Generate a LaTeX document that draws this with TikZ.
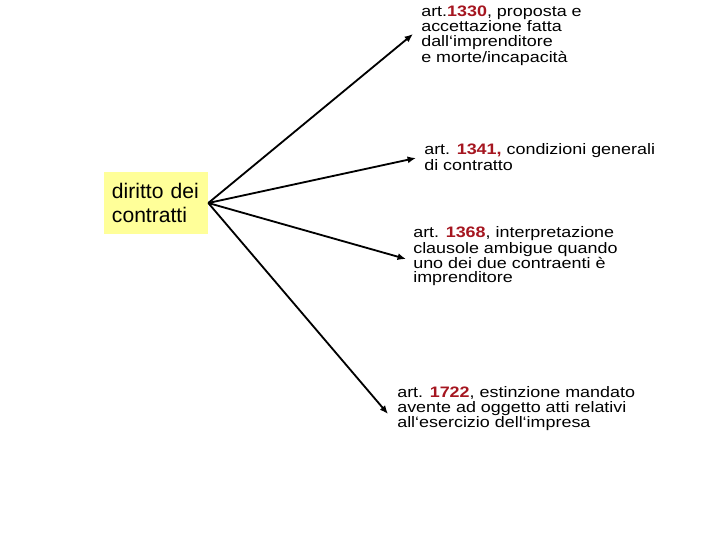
\documentclass[tikz,border=0pt]{standalone}
\usepackage{fontspec}
\setmainfont{Liberation Sans}
\newfontfamily\artfont[FakeStretch=1.18]{Liberation Sans}
\usetikzlibrary{arrows.meta}
\definecolor{artred}{RGB}{165,22,32}
\definecolor{boxyellow}{RGB}{255,255,153}
\newcommand{\artnum}[1]{\textcolor{artred}{\textbf{#1}}}
\tikzset{
  artlink/.style = {line width=1.3pt, -{Latex[length=6pt,width=5pt]}},
  arttext/.style = {anchor=base west, inner sep=0pt, align=left,
                    font=\artfont\fontsize{10.8}{10.8}\selectfont}
}
\begin{document}
\begin{tikzpicture}[x=0.025cm,y=-0.025cm]
  \useasboundingbox (0,0) rectangle (720,540);
  % yellow box
  \node[fill=boxyellow, minimum width=2.6cm, minimum height=1.525cm,
        text width=2.2cm, inner xsep=0.2cm, align=left,
        font=\fontsize{15}{17.7}\selectfont] (diritto) at (156,203)
        {diritto dei\\contratti};
  % text blocks (placed at the baseline of their last line)
  \node[arttext] (a1330) at (421,62)
        {art.\artnum{1330}, proposta e\\accettazione fatta\\dall‘imprenditore\\e morte/incapacità};
  \node[arttext, font=\artfont\fontsize{10.8}{11.3}\selectfont] (a1341) at (424,170)
        {art. \artnum{1341,} condizioni generali\\di contratto};
  \node[arttext, font=\artfont\fontsize{10.8}{9.3}\selectfont] (a1368) at (413,282)
        {art. \artnum{1368}, interpretazione\\clausole ambigue quando\\uno dei due contraenti è\\imprenditore};
  \node[arttext, font=\artfont\fontsize{10.8}{10.4}\selectfont] (a1722) at (397,427)
        {art. \artnum{1722}, estinzione mandato\\avente ad oggetto atti relativi\\all‘esercizio dell‘impresa};
  % arrow tips
  \coordinate (t1) at (413,34);
  \coordinate (t2) at (416,158);
  \coordinate (t3) at (406,259);
  \coordinate (t4) at (388,414);
  \draw[artlink] (diritto.east) -- (t1);
  \draw[artlink] (diritto.east) -- (t2);
  \draw[artlink] (diritto.east) -- (t3);
  \draw[artlink] (diritto.east) -- (t4);
\end{tikzpicture}
\end{document}
